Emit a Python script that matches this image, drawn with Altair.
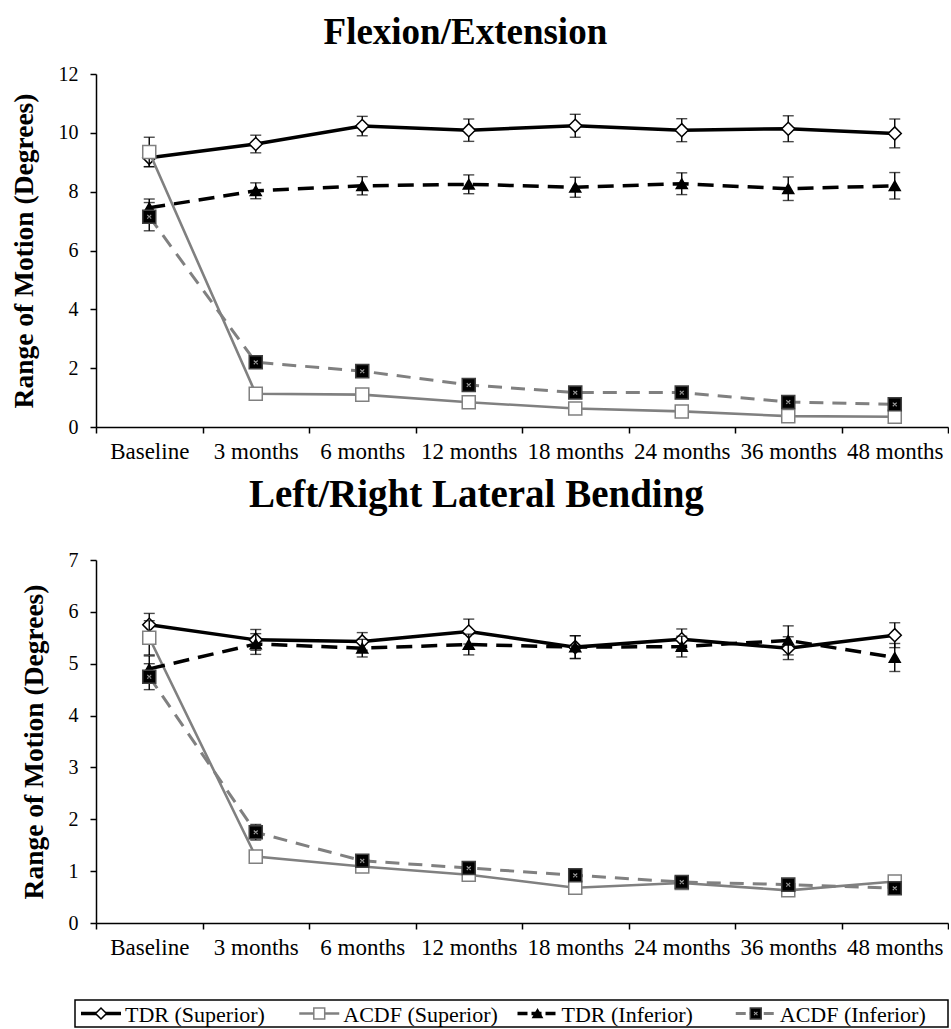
import altair as alt
import pandas as pd

times = ["Baseline", "3 months", "6 months", "12 months", "18 months",
         "24 months", "36 months", "48 months"]
series = ["TDR (Superior)", "ACDF (Superior)", "TDR (Inferior)", "ACDF (Inferior)"]

# Flexion/Extension (means and error half-widths)
fe_tdr_sup = [9.15, 9.62, 10.23, 10.09, 10.24, 10.09, 10.14, 9.98]
fe_tdr_sup_err = [0.30, 0.30, 0.33, 0.38, 0.39, 0.39, 0.44, 0.49]
fe_acdf_sup = [9.35, 1.13, 1.10, 0.84, 0.63, 0.53, 0.37, 0.35]
fe_acdf_sup_err = [0.50, 0.10, 0.10, 0.10, 0.08, 0.08, 0.08, 0.08]
fe_tdr_inf = [7.45, 8.03, 8.20, 8.25, 8.15, 8.27, 8.10, 8.20]
fe_tdr_inf_err = [0.30, 0.27, 0.31, 0.32, 0.34, 0.37, 0.40, 0.45]
fe_acdf_inf = [7.15, 2.20, 1.90, 1.43, 1.17, 1.17, 0.85, 0.77]
fe_acdf_inf_err = [0.48, 0.12, 0.12, 0.10, 0.10, 0.10, 0.08, 0.08]

# Left/Right Lateral Bending
lb_tdr_sup = [5.75, 5.46, 5.43, 5.62, 5.32, 5.47, 5.30, 5.55]
lb_tdr_sup_err = [0.22, 0.20, 0.17, 0.24, 0.22, 0.20, 0.22, 0.24]
lb_acdf_sup = [5.50, 1.28, 1.09, 0.93, 0.68, 0.77, 0.63, 0.80]
lb_acdf_sup_err = [0.33, 0.08, 0.06, 0.06, 0.05, 0.05, 0.05, 0.05]
lb_tdr_inf = [4.90, 5.38, 5.30, 5.37, 5.32, 5.33, 5.45, 5.12]
lb_tdr_inf_err = [0.25, 0.20, 0.17, 0.20, 0.22, 0.20, 0.28, 0.27]
lb_acdf_inf = [4.75, 1.75, 1.20, 1.06, 0.92, 0.79, 0.74, 0.67]
lb_acdf_inf_err = [0.25, 0.15, 0.08, 0.08, 0.06, 0.06, 0.06, 0.06]

FONT = "Liberation Serif"
GRAY = "#808080"

styles = {
    "TDR (Superior)": dict(color="black", width=3.5, dash=None, shape="diamond",
                           fill="white", stroke="black", size=170),
    "ACDF (Superior)": dict(color=GRAY, width=2.6, dash=None, shape="square",
                            fill="white", stroke=GRAY, size=170),
    "TDR (Inferior)": dict(color="black", width=3.5, dash=[16, 9], shape="triangle-up",
                           fill="black", stroke="black", size=120),
    "ACDF (Inferior)": dict(color=GRAY, width=3.0, dash=[14, 9], shape="square",
                            fill="black", stroke="#404040", size=170),
}
CHEVRON = "M-0.5,-0.45L0,0.05L0.5,-0.45M-0.5,0.5L-0.2,0.2M0.5,0.5L0.2,0.2"


def build(vals, errs):
    rows = []
    for s, v, e in zip(series, vals, errs):
        for t, vv, ee in zip(times, v, e):
            rows.append(dict(series=s, time=t, value=vv, lo=vv - ee, hi=vv + ee))
    return pd.DataFrame(rows)


fe_df = build([fe_tdr_sup, fe_acdf_sup, fe_tdr_inf, fe_acdf_inf],
              [fe_tdr_sup_err, fe_acdf_sup_err, fe_tdr_inf_err, fe_acdf_inf_err])
lb_df = build([lb_tdr_sup, lb_acdf_sup, lb_tdr_inf, lb_acdf_inf],
              [lb_tdr_sup_err, lb_acdf_sup_err, lb_tdr_inf_err, lb_acdf_inf_err])


def panel(df, title, ymax, ystep, height, title_offset, title_size, title_dx):
    xenc = alt.X(
        "time:N", sort=times, bandPosition=0.5,
        scale=alt.Scale(type="band", paddingInner=0, paddingOuter=0),
        axis=alt.Axis(title=None, tickBand="extent", labelAngle=0, labelFont=FONT,
                      labelFontSize=23, labelColor="black", labelPadding=7,
                      domainColor="black", domainWidth=1.5, tickColor="black",
                      tickWidth=1.5, tickSize=6, grid=False),
    )

    def yenc(field):
        return alt.Y(
            field, type="quantitative",
            scale=alt.Scale(domain=[0, ymax], nice=False, zero=True),
            axis=alt.Axis(title="Range of Motion (Degrees)",
                          values=list(range(0, ymax + 1, ystep)),
                          labelFont=FONT, labelFontSize=20, labelColor="black",
                          labelPadding=12, titleFont=FONT, titleFontSize=27.5,
                          titleFontWeight="bold", titleColor="black", titlePadding=20,
                          domainColor="black", domainWidth=1.5, tickColor="black",
                          tickWidth=1.5, tickSize=6, grid=False),
        )

    layers = []
    for s in series:
        st = styles[s]
        base = alt.Chart(df).transform_filter(alt.datum.series == s)
        layers.append(base.mark_rule(color="black", strokeWidth=1.4).encode(
            x=xenc, y=yenc("lo"), y2="hi:Q"))
        layers.append(base.mark_tick(color="black", thickness=1.4, size=11).encode(
            x=xenc, y=yenc("lo")))
        layers.append(base.mark_tick(color="black", thickness=1.4, size=11).encode(
            x=xenc, y=yenc("hi")))
        line_kw = dict(color=st["color"], strokeWidth=st["width"])
        if st["dash"]:
            line_kw["strokeDash"] = st["dash"]
        layers.append(base.mark_line(**line_kw).encode(x=xenc, y=yenc("value")))
        layers.append(base.mark_point(shape=st["shape"], filled=True, fill=st["fill"],
                                      stroke=st["stroke"], strokeWidth=1.5,
                                      size=st["size"], opacity=1).encode(
            x=xenc, y=yenc("value")))
        if s == "ACDF (Inferior)":
            layers.append(base.mark_point(shape=CHEVRON, filled=False, stroke="#9a9a9a",
                                          strokeWidth=1.2, size=60, opacity=1).encode(
                x=xenc, y=yenc("value")))
    return alt.layer(*layers).properties(
        width=852, height=height,
        title=alt.TitleParams(title, font=FONT, fontSize=title_size, fontWeight="bold",
                              color="black", anchor="middle", frame="bounds",
                              offset=title_offset, dx=title_dx),
    )


top = panel(fe_df, "Flexion/Extension", 12, 2, 353, 12, 37, -14)
bottom = panel(lb_df, "Left/Right Lateral Bending", 7, 1, 363, 35, 39, -8)

# legend panel (one slot per series, laid out through a linear scale)
leg_df = pd.DataFrame({"series": series, "idx": list(range(len(series)))})
LRANGE = [-21, 852]
lx = alt.X("idx:Q", scale=alt.Scale(domain=[0, len(series)], range=LRANGE), axis=None)
lx2 = alt.X("start:Q", scale=alt.Scale(domain=[0, len(series)], range=LRANGE), axis=None)
LH = 27
leg_layers = [
    alt.Chart(leg_df).transform_aggregate(start="min(idx)", n="count()")
    .mark_rect(fill="white", stroke="black", strokeWidth=1.5)
    .encode(x=lx2, x2="n:Q", y=alt.value(0), y2=alt.value(LH))
]
for s in series:
    st = styles[s]
    b = alt.Chart(leg_df).transform_filter(alt.datum.series == s)
    kw = dict(color=st["color"], strokeWidth=st["width"], xOffset=6, x2Offset=46)
    if st["dash"]:
        kw["strokeDash"] = [10, 4]
    leg_layers.append(b.mark_rule(**kw).encode(x=lx, x2="idx:Q", y=alt.value(LH / 2)))
    leg_layers.append(b.mark_point(shape=st["shape"], filled=True, fill=st["fill"],
                                   stroke=st["stroke"], strokeWidth=1.5,
                                   size=st["size"] * 0.7, opacity=1, xOffset=26)
                      .encode(x=lx, y=alt.value(LH / 2)))
    if s == "ACDF (Inferior)":
        leg_layers.append(b.mark_point(shape=CHEVRON, filled=False, stroke="#9a9a9a",
                                       strokeWidth=1.1, size=45, opacity=1, xOffset=26)
                          .encode(x=lx, y=alt.value(LH / 2)))
    leg_layers.append(b.mark_text(align="left", baseline="middle", dx=50, dy=1,
                                  font=FONT, fontSize=22, color="black")
                      .encode(x=lx, y=alt.value(LH / 2), text="series:N"))
legend = alt.layer(*leg_layers).properties(width=852, height=LH)

charts = alt.vconcat(top, bottom, spacing=13).resolve_scale(x="independent")
chart = alt.vconcat(charts, legend, spacing=40).properties(
    padding={"left": 10, "top": 14, "right": 0, "bottom": 1},
    background="white",
).configure_view(stroke=None).resolve_scale(x="independent")

chart.save("out.html", embed_options={"renderer": "svg", "actions": False})
